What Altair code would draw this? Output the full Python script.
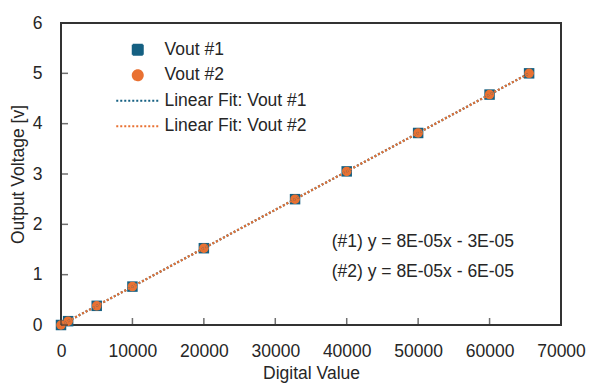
import altair as alt
import pandas as pd

# Data
digital = [0, 1000, 5000, 10000, 20000, 32768, 40000, 50000, 60000, 65535]
vout1 = [0.0, 0.076, 0.381, 0.763, 1.526, 2.50, 3.052, 3.815, 4.578, 5.0]
vout2 = [0.0, 0.076, 0.381, 0.763, 1.526, 2.50, 3.052, 3.815, 4.578, 5.0]

series_names = ["Vout #1", "Vout #2", "Linear Fit: Vout #1", "Linear Fit: Vout #2"]
series_colors = ["#156082", "#E97132", "#156082", "#E97132"]
series_shapes = ["square", "circle", "M-4.3,0H4.3", "M-4.3,0H4.3"]
series_dash = [[1, 0], [1, 0], [2, 2], [2, 2]]

x_ticks = [0, 10000, 20000, 30000, 40000, 50000, 60000, 70000]
y_ticks = [0, 1, 2, 3, 4, 5, 6]

eq_text = ["(#1) y = 8E-05x - 3E-05", "(#2) y = 8E-05x - 6E-05"]
eq_x = [37900, 37900]
eq_y = [1.65, 1.05]

FONT = "Liberation Sans"
TXT = "#262626"
W, H = 500, 302

df = pd.DataFrame({
    "x": digital * 2,
    "y": vout1 + vout2,
    "series": ["Vout #1"] * len(digital) + ["Vout #2"] * len(digital),
})

xs = alt.Scale(domain=[0, 70000], nice=False, zero=False)
ys = alt.Scale(domain=[0, 6], nice=False, zero=False)

x_axis = alt.Axis(values=x_ticks, ticks=False, grid=False, domain=False,
                  labelFontSize=17.5, labelFont=FONT, labelColor=TXT,
                  labelPadding=17, title="Digital Value", titleFont=FONT,
                  titleFontSize=17.5, titleFontWeight="normal", titleColor=TXT,
                  titlePadding=5, format="d", labelFlush=False)
y_axis = alt.Axis(values=y_ticks, ticks=False, grid=False, domain=False,
                  labelFontSize=17.5, labelFont=FONT, labelColor=TXT,
                  labelPadding=19, title="Output Voltage [v]", titleFont=FONT,
                  titleFontSize=17.5, titleFontWeight="normal", titleColor=TXT,
                  titlePadding=5, labelFlush=False)

leg = alt.Legend(title=None, orient="none", legendX=68, legendY=18,
                 labelFont=FONT, labelFontSize=17.5, labelColor=TXT,
                 symbolSize=100, rowPadding=6.5, labelOffset=18,
                 symbolStrokeWidth=2)

color = alt.Color("series:N", scale=alt.Scale(domain=series_names, range=series_colors), legend=leg)
shape = alt.Shape("series:N", scale=alt.Scale(domain=series_names, range=series_shapes), legend=leg)
dash = alt.StrokeDash("series:N", scale=alt.Scale(domain=series_names, range=series_dash), legend=leg)

base = alt.Chart(df)

squares = base.transform_filter("datum.series == 'Vout #1'").mark_point(
    filled=True, size=110, opacity=1).encode(
    x=alt.X("x:Q", scale=xs, axis=x_axis),
    y=alt.Y("y:Q", scale=ys, axis=y_axis),
    color=color, shape=shape)

circles = base.transform_filter("datum.series == 'Vout #2'").mark_point(
    filled=True, size=90, opacity=1).encode(
    x="x:Q", y="y:Q", color=color, shape=shape)

fits = base.transform_regression("x", "y", groupby=["series"], extent=[0, 65535]).transform_calculate(
    series="'Linear Fit: ' + datum.series").mark_line(strokeWidth=2.2).encode(
    x="x:Q", y="y:Q", color=color, strokeDash=dash)

xt = alt.Chart(pd.DataFrame({"t": x_ticks})).mark_tick(
    size=7, thickness=1.5, color="#333", yOffset=-3.5).encode(
    x=alt.X("t:Q"), y=alt.value(H))
yt = alt.Chart(pd.DataFrame({"t": y_ticks})).mark_tick(
    size=7, thickness=1.5, color="#333", xOffset=3.5).encode(
    y=alt.Y("t:Q"), x=alt.value(0))

eq = alt.Chart(pd.DataFrame({"x": eq_x, "y": eq_y, "t": eq_text})).mark_text(
    align="left", baseline="middle", font=FONT, fontSize=17.5, color=TXT).encode(
    x="x:Q", y="y:Q", text="t:N")

chart = alt.layer(squares, circles, fits, xt, yt, eq).properties(
    width=W, height=H,
    background="white",
    autosize=alt.AutoSizeParams(type="none"),
    padding={"left": 53, "top": 15, "right": 25, "bottom": 58},
).configure_view(stroke="#333", strokeWidth=2)

chart.save("out.html", embed_options={"renderer": "svg", "actions": False})
